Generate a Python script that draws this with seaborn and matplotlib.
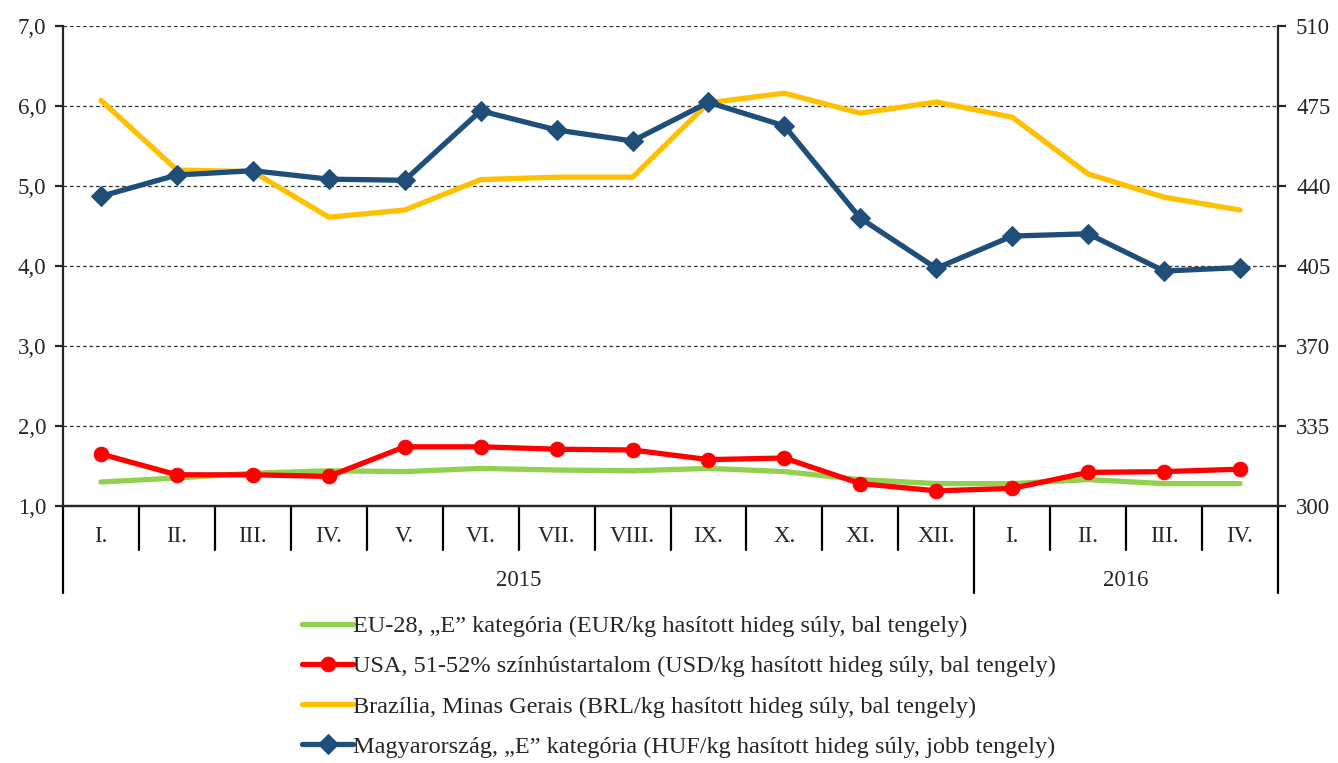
import matplotlib
matplotlib.use("agg")
import matplotlib.pyplot as plt
import matplotlib.transforms as mtransforms
import pandas as pd
import seaborn as sns

months = ["I.", "II.", "III.", "IV.", "V.", "VI.", "VII.", "VIII.", "IX.", "X.", "XI.", "XII.",
          "I.", "II.", "III.", "IV."]
years = ["2015", "2016"]

eu = [1.30, 1.35, 1.41, 1.44, 1.43, 1.47, 1.45, 1.44, 1.47, 1.43, 1.33, 1.28, 1.28, 1.33, 1.28, 1.28]
usa = [1.65, 1.39, 1.39, 1.37, 1.74, 1.74, 1.71, 1.70, 1.58, 1.60, 1.28, 1.19, 1.22, 1.42, 1.43, 1.46]
brazil = [6.07, 5.20, 5.18, 4.61, 4.70, 5.08, 5.11, 5.11, 6.04, 6.16, 5.91, 6.05, 5.86, 5.15, 4.86, 4.70]
hungary = [435.5, 444.8, 446.7, 443.0, 442.5, 472.9, 464.5, 459.7, 476.6, 466.3, 425.9, 404.0,
           418.1, 419.1, 402.8, 404.3]

labels = [
    "EU-28, \u201eE\u201d kategória (EUR/kg hasított hideg súly, bal tengely)",
    "USA, 51-52% színhústartalom (USD/kg hasított hideg súly, bal tengely)",
    "Brazília, Minas Gerais (BRL/kg hasított hideg súly, bal tengely)",
    "Magyarország, \u201eE\u201d kategória (HUF/kg hasított hideg súly, jobb tengely)",
]

colors = ["#92D050", "#FF0000", "#FFC000", "#1F4E79"]

pos = list(range(len(months)))
d = pd.DataFrame({"pos": pos, "eu": eu, "usa": usa, "brazil": brazil, "hungary": hungary})

sns.set_style("ticks")
plt.rcParams["font.family"] = ["Liberation Serif", "DejaVu Serif"]
fs = 16.5
plt.rcParams["font.size"] = fs

fig = plt.figure(figsize=(13.38, 7.63), dpi=100)
ax = fig.add_axes([63 / 1338, 1 - 506 / 763, (1278 - 63) / 1338, 480 / 763])
ax2 = ax.twinx()

lw = 3.8
sns.lineplot(data=d, x="pos", y="eu", ax=ax, color=colors[0], lw=lw, label=labels[0], zorder=3)
sns.lineplot(data=d, x="pos", y="usa", ax=ax, color=colors[1], lw=lw, marker="o", markersize=10.5,
             markeredgecolor=colors[1], label=labels[1], zorder=4)
sns.lineplot(data=d, x="pos", y="brazil", ax=ax, color=colors[2], lw=lw, label=labels[2], zorder=3)
sns.lineplot(data=d, x="pos", y="hungary", ax=ax2, color=colors[3], lw=lw, marker="D", markersize=10,
             markeredgecolor=colors[3], label=labels[3], zorder=4)

h1, l1 = ax.get_legend_handles_labels()
h2, l2 = ax2.get_legend_handles_labels()
ax.get_legend().remove()
ax2.get_legend().remove()

ax.set_xlim(-0.5, len(months) - 0.5)
ax.set_ylim(1, 7)
ax2.set_ylim(300, 510)
ax.set_yticks([1, 2, 3, 4, 5, 6, 7])
ax.set_yticklabels([f"{v:.1f}".replace(".", ",") for v in [1, 2, 3, 4, 5, 6, 7]])
ax2.set_yticks([300, 335, 370, 405, 440, 475, 510])
ax.set_xticks([])
ax.set_xlabel("")
ax.set_ylabel("")
ax2.set_ylabel("")

for a in (ax, ax2):
    a.spines["top"].set_visible(False)
    for s in a.spines.values():
        s.set_linewidth(1.6)
    a.tick_params(axis="y", length=6, width=1.6, labelsize=fs, direction="out")
ax.tick_params(axis="y", pad=6)
ax2.tick_params(axis="y", pad=7)
ax2.spines["left"].set_visible(False)
ax.spines["right"].set_visible(False)

ax.yaxis.grid(True, linestyle=(0, (3, 2.2)), color="#333333", lw=0.9)
ax.set_axisbelow(True)
ax2.set_zorder(ax.get_zorder() + 1)
ax2.patch.set_visible(False)

# category table under the x axis
trans = mtransforms.blended_transform_factory(ax.transData, ax.transAxes)
row1 = -44 / 480
row2 = -87 / 480
for i in range(1, len(months)):
    bottom = row2 if i == 12 else row1
    ax.plot([i - 0.5, i - 0.5], [0, bottom], color="black", lw=1.6, transform=trans, clip_on=False)
for xb in (-0.5, len(months) - 0.5):
    ax.plot([xb, xb], [0, row2], color="black", lw=1.6, transform=trans, clip_on=False)
for i, m in enumerate(months):
    ax.text(i, -36 / 480, m, transform=trans, ha="center", va="baseline", fontsize=fs)
ax.text(5.5, -80 / 480, years[0], transform=trans, ha="center", va="baseline", fontsize=fs)
ax.text(13.5, -80 / 480, years[1], transform=trans, ha="center", va="baseline", fontsize=fs)

fig.legend(h1 + h2, l1 + l2, loc="upper left", bbox_to_anchor=(302 / 1338, 1 - 615 / 763),
           frameon=False, fontsize=17.5, handlelength=2.1, handletextpad=0.0, labelspacing=0.75,
           borderaxespad=0, borderpad=0)

fig.savefig("out.png", dpi=100, facecolor="white")
